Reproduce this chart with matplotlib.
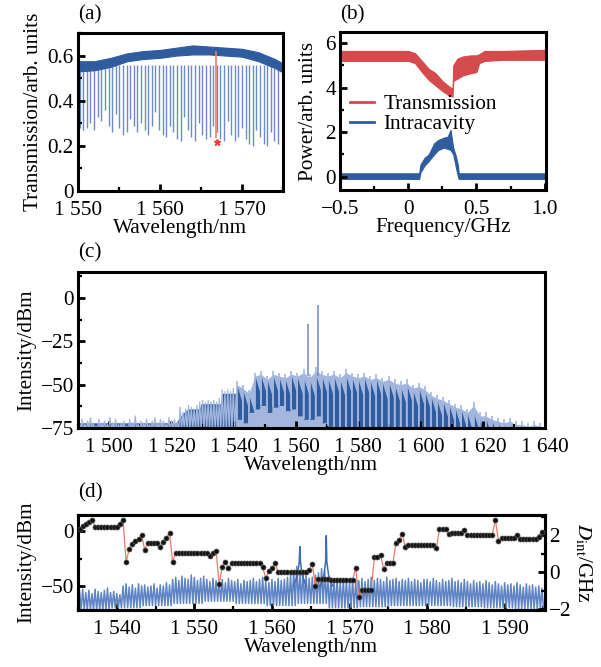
import numpy as np
import matplotlib.pyplot as plt
from matplotlib.lines import Line2D
from matplotlib.ticker import FuncFormatter, MultipleLocator

plt.rcParams['font.family'] = ['Liberation Serif', 'DejaVu Serif']
plt.rcParams['mathtext.fontset'] = 'stix'
plt.rcParams['font.size'] = 15.3
plt.rcParams['axes.unicode_minus'] = True

BLUE = '#2f5c9e'
BLUE_L = '#6d8cc6'
BLUE_XL = '#a3b6de'
RED = '#d54a4c'
RED_L = '#ea7b6c'

# ---------------- (a) transmission scan ----------------
a_band_wl = [1550, 1552, 1554, 1556, 1558, 1560, 1562, 1564, 1566, 1568, 1570, 1572, 1574, 1575]
a_band_hi = [0.575, 0.575, 0.59, 0.61, 0.62, 0.625, 0.635, 0.645, 0.64, 0.635, 0.63, 0.615, 0.585, 0.565]
a_band_lo = [0.53, 0.535, 0.55, 0.575, 0.585, 0.59, 0.60, 0.605, 0.605, 0.60, 0.595, 0.575, 0.545, 0.525]
a_fsr = 0.44
a_dip_min = [0.28, 0.27, 0.28, 0.30, 0.27, 0.33, 0.31, 0.36, 0.29, 0.26, 0.34, 0.28, 0.25, 0.26,
             0.32, 0.29, 0.26, 0.30, 0.27, 0.25, 0.29, 0.35, 0.27, 0.25, 0.24, 0.29, 0.26, 0.23,
             0.22, 0.33, 0.27, 0.24, 0.22, 0.30, 0.25, 0.23, 0.24, 0.29, 0.26, 0.23, 0.22, 0.31,
             0.25, 0.22, 0.24, 0.28, 0.23, 0.21, 0.20, 0.27, 0.24, 0.21, 0.20, 0.26, 0.22, 0.21]
a_pump_wl = 1566.85
a_pump_top = 0.62
a_pump_min = 0.235
a_star = (1567.0, 0.215)

# ---------------- (b) frequency scan ----------------
b_tr_f = [-0.5, 0.0, 0.05, 0.10, 0.15, 0.20, 0.25, 0.30, 0.325, 0.33, 0.36, 0.40, 0.46, 0.50, 0.52, 0.56, 0.70, 1.0]
b_tr_hi = [5.65, 5.65, 5.55, 5.2, 4.85, 4.65, 4.3, 4.05, 3.95, 5.0, 5.3, 5.4, 5.45, 5.45, 5.5, 5.65, 5.65, 5.7]
b_tr_lo = [5.2, 5.2, 5.1, 4.7, 4.35, 4.1, 3.85, 3.65, 3.6, 4.3, 4.4, 4.55, 4.65, 4.7, 5.1, 5.2, 5.25, 5.25]
b_ic_f = [-0.5, 0.08, 0.09, 0.12, 0.15, 0.19, 0.22, 0.26, 0.29, 0.31, 0.33, 0.35, 0.365, 0.37, 1.0]
b_ic_hi = [0.15, 0.15, 0.55, 0.85, 1.0, 1.5, 1.65, 1.75, 1.8, 2.1, 1.3, 0.9, 0.5, 0.15, 0.15]
b_ic_lo = [-0.1, -0.1, 0.2, 0.5, 0.7, 1.0, 1.2, 1.3, 1.25, 1.2, 1.0, 0.4, 0.0, -0.1, -0.1]

# ---------------- (c) full comb spectrum ----------------
c_noise_start, c_noise_step = 1490.4, 0.9
c_noise_top = [-72, -70, -73, -71, -69, -72, -74, -70, -72, -71, -73, -69, -72, -70, -73, -72, -71, -74,
               -70, -72, -68, -73, -71, -72, -70, -73, -71, -69, -72, -70, -71, -73, -69, -71, -70, -72,
               -63, -66, -64, -62, -63, -64, -62, -60, -59, -60, -59, -60, -59, -60, -58, -53, -54, -53,
               -54, -52, -55]
c_shelf_wl = [1490, 1521.5, 1522.5, 1524, 1525.5, 1529, 1529.5, 1535.8, 1536.2, 1540.6, 1540.8]
c_shelf_top = [-72, -72, -69, -66, -64, -64, -61, -61, -55, -55, -76]
c_tooth_start, c_tooth_step = 1541.0, 1.95
c_top = [-48, -50, -53, -43, -42, -45, -42, -43, -44, -42, -43, -41, -44, -40, -42, -43, -42,
         -44, -41, -43, -44, -43, -45, -44, -46, -45, -47, -48, -47, -50, -49, -51, -54, -56,
         -57, -59, -61, -62, -64, -60, -66, -66, -68, -69, -70, -69, -71, -71, -72, -71, -72]
c_dark = [-50, -53, -56, -45, -45, -47, -45, -46, -47, -45, -46, -46, -47, -44, -45, -46, -45,
          -47, -45, -46, -47, -46, -48, -47, -49, -48, -50, -51, -50, -53, -52, -54, -57, -59,
          -60, -62, -64, -65, -67, -66, -69, -69, -70, -71, -72, -72, -73, -73, -74, -73, -74]
c_base = [-70, -72, -66, -64, -62, -66, -63, -62, -65, -64, -68, -70, -70, -68, -72, -74, -76,
          -76, -76, -76, -76, -76, -76, -76, -76, -76, -76, -76, -76, -76, -76, -76, -76, -76,
          -76, -76, -76, -76, -76, -76, -76, -76, -76, -76, -76, -76, -76, -76, -76, -76, -76]
c_spike_wl = [1563.8, 1567.0]
c_spike_top = [-15, -4]

# ---------------- (d) zoomed spectrum + D_int ----------------
d_start, d_fsr = 1535.2, 0.4
d_top = [-55, -53, -56, -54, -57, -53, -55, -56, -54, -52, -56, -55, -57, -58,
         -50, -48, -51, -49, -52, -48, -50, -49, -51, -50, -48, -52, -49, -50, -47, -49,
         -44, -42, -45, -41, -43, -44, -40, -42, -45, -43, -41, -44, -46, -43, -45,
         -46, -44, -47, -43, -45, -46, -44, -48, -45, -46,
         -45, -43, -46, -44, -42, -45, -47, -44, -46, -43, -45, -44, -42, -40, -36,
         -32, -38, -36, -40, -43, -42, -40, -38, -34,
         -36, -42, -44, -45, -43, -46, -44, -45, -47, -44, -46,
         -45, -43, -46, -44, -42, -45, -43, -44, -46, -42, -45, -44, -43, -46, -44, -45, -43,
         -46, -44, -45, -47, -44,
         -44, -46, -43, -45, -47, -44, -46, -45, -43, -46, -45, -47, -44, -46, -48, -45, -47,
         -46, -48, -45,
         -47, -49, -46, -48, -50, -47, -49, -48, -50, -47, -49, -51, -48, -50, -49, -51, -50, -52]
d_floor = [-72, -70, -68, -66, -64, -66, -68, -66, -70, -69, -68, -68, -69, -70, -71]
d_spike_wl = [1563.6, 1567.0]
d_spike_top = [-14, -4]
d_spike_dx = [-0.8, -0.3, -0.08, 0.0, 0.08, 0.3, 0.8]
d_spike_side = [-50, -40, -28]
d_dint_runs = [(1, 2.35), (1, 2.5), (1, 2.6), (1, 2.7), (1, 2.85), (8, 2.45), (1, 2.62), (1, 2.85),
               (1, 0.56), (1, 1.25), (1, 1.55), (1, 1.7), (1, 1.8), (1, 2.0), (1, 1.22), (4, 1.6),
               (1, 1.35), (1, 1.65), (1, 1.85), (1, 2.13), (1, 0.56), (11, 1.05), (1, 0.9), (1, 1.05),
               (1, 1.14), (1, -0.65), (1, 0.3), (1, 0.56), (1, 0.2), (10, 0.5), (1, 0.3), (1, -0.33),
               (1, 0.05), (1, 0.2), (1, 0.5), (10, 0.0), (1, 0.1), (1, 0.46), (1, -0.74), (4, -0.38),
               (8, -0.42), (1, 0.25), (1, -1.35), (4, -0.95), (1, 0.8), (1, 0.85), (1, 0.95), (1, 0.18),
               (3, 0.5), (1, 1.6), (1, 1.75), (1, 2.05), (1, 1.35), (9, 1.47), (1, 1.3), (3, 2.36),
               (1, 2.05), (4, 2.15), (1, 2.3), (9, 2.02), (1, 2.85), (1, 1.68), (5, 1.85), (1, 2.0),
               (6, 1.8), (1, 1.9), (1, 2.2)]

W, H = 601, 667
fig = plt.figure(figsize=(W / 100, H / 100), dpi=100)


def box(l, t, r, b):
    return [l / W, 1 - b / H, (r - l) / W, (b - t) / H]


def style(ax, right=False):
    for s in ax.spines.values():
        s.set_linewidth(2.2)
    ax.tick_params(which='both', direction='in', top=False, right=right, width=2)
    ax.tick_params(axis='x', which='both', pad=7.5)
    ax.tick_params(axis='y', which='both', pad=3)
    ax.tick_params(which='major', length=5)
    ax.tick_params(which='minor', length=3, width=1.6)


def wl_fmt(v, p):
    return f'{v:,.0f}'.replace(',', ' ')


def num_fmt(v, p):
    if abs(v) < 1e-9:
        return '0'
    s = f'{v:g}'
    return s.replace('-', '\u2212')


def one_dec_fmt(v, p):
    if abs(v) < 1e-9:
        return '0'
    return f'{v:.1f}'.replace('-', '\u2212')


# (a)
ax = fig.add_axes(box(78, 33, 283, 191))
dip_wl = 1550.2 + a_fsr * np.arange(len(a_dip_min))
ax.vlines(dip_wl, a_dip_min, 0.56, color=BLUE_L, lw=1.0, zorder=1)
ax.fill_between(a_band_wl, a_band_lo, a_band_hi, color=BLUE, lw=0.8, zorder=2)
ax.vlines(a_pump_wl, a_pump_min, a_pump_top, color=RED_L, lw=1.2, zorder=3)
ax.plot(*a_star, marker='*', color='#e5403a', ms=5, zorder=4)
ax.set_xlim(1550, 1575)
ax.set_ylim(0, 0.7)
ax.xaxis.set_major_locator(MultipleLocator(10))
ax.xaxis.set_minor_locator(MultipleLocator(5))
ax.yaxis.set_major_locator(MultipleLocator(0.2))
ax.yaxis.set_minor_locator(MultipleLocator(0.1))
ax.xaxis.set_major_formatter(FuncFormatter(wl_fmt))
ax.yaxis.set_major_formatter(FuncFormatter(num_fmt))
ax.set_xlabel('Wavelength/nm', labelpad=-1)
ax.set_ylabel('Transmission/arb. units', labelpad=3)
style(ax)

# (b)
ax = fig.add_axes(box(340, 32, 546, 190))
ax.fill_between(b_tr_f, b_tr_lo, b_tr_hi, color=RED, lw=0.8)
ax.fill_between(b_ic_f, b_ic_lo, b_ic_hi, color=BLUE, lw=0.8)
ax.set_xlim(-0.5, 1.01)
ax.set_ylim(-0.6, 6.5)
ax.xaxis.set_major_locator(MultipleLocator(0.5))
ax.xaxis.set_minor_locator(MultipleLocator(0.25))
ax.yaxis.set_major_locator(MultipleLocator(2))
ax.yaxis.set_minor_locator(MultipleLocator(1))
ax.xaxis.set_major_formatter(FuncFormatter(one_dec_fmt))
ax.yaxis.set_major_formatter(FuncFormatter(num_fmt))
ax.set_xlabel('Frequency/GHz', labelpad=-1)
ax.set_ylabel('Power/arb. units', labelpad=5)
handles = [Line2D([], [], color=RED, lw=2), Line2D([], [], color=BLUE, lw=2)]
ax.legend(handles, ['Transmission', 'Intracavity'], frameon=False, loc='center left',
          bbox_to_anchor=(0.05, 0.48), borderaxespad=0, borderpad=0, handlelength=1.1,
          handletextpad=0.45, labelspacing=0.0)
style(ax)

# (c)
ax = fig.add_axes(box(78, 272, 545, 428))
nz_wl = c_noise_start + c_noise_step * np.arange(len(c_noise_top))
zx = np.column_stack([nz_wl, nz_wl + c_noise_step / 2]).ravel()
zy = np.column_stack([c_noise_top, np.full(len(c_noise_top), -76)]).ravel()
ax.plot(zx, zy, color=BLUE_XL, lw=0.9)
ax.fill_between(c_shelf_wl, -76, c_shelf_top, color=BLUE, lw=0)
t_wl = c_tooth_start + c_tooth_step * np.arange(len(c_top))
ax.fill_between(t_wl, -76, np.array(c_top) - 2, color=BLUE_XL, lw=0)
ax.vlines(t_wl, c_base, c_top, color=BLUE_XL, lw=1.2)
for w, d, b in zip(t_wl, c_dark, c_base):
    ax.fill_between([w, w + 0.15, w + 1.5], [b, b, b], [d, d - 1, d - 9], color=BLUE, lw=0)
ax.vlines(c_spike_wl, -45, c_spike_top, color=BLUE_L, lw=1.1)
ax.set_xlim(1490, 1640)
ax.set_ylim(-75, 15)
ax.xaxis.set_major_locator(MultipleLocator(20))
ax.xaxis.set_minor_locator(MultipleLocator(10))
ax.yaxis.set_major_locator(MultipleLocator(25))
ax.yaxis.set_minor_locator(MultipleLocator(12.5))
ax.xaxis.set_major_formatter(FuncFormatter(wl_fmt))
ax.yaxis.set_major_formatter(FuncFormatter(num_fmt))
ax.set_xlabel('Wavelength/nm', labelpad=-1)
ax.set_ylabel('Intensity/dBm', labelpad=3)
style(ax)

# (d)
ax = fig.add_axes(box(78, 515, 545, 610))
d_wl = d_start + d_fsr * np.arange(len(d_top))
d_bot = [d_floor[k // 10] for k in range(len(d_top))]
zx = np.column_stack([d_wl, d_wl + d_fsr / 2]).ravel()
zy = np.column_stack([d_top, d_bot]).ravel()
ax.plot(zx, zy, color='#5f84c4', lw=1.1)
for w, top in zip(d_spike_wl, d_spike_top):
    ys = d_spike_side + [top] + d_spike_side[::-1]
    ax.plot(w + np.array(d_spike_dx), ys, color='#3f6bb3', lw=1.1)
ax.set_xlim(1535, 1595.2)
ax.set_ylim(-72, 15)
ax.xaxis.set_major_locator(MultipleLocator(10))
ax.xaxis.set_minor_locator(MultipleLocator(5))
ax.yaxis.set_major_locator(MultipleLocator(50))
ax.yaxis.set_minor_locator(MultipleLocator(25))
ax.xaxis.set_major_formatter(FuncFormatter(wl_fmt))
ax.yaxis.set_major_formatter(FuncFormatter(num_fmt))
ax.set_xlabel('Wavelength/nm', labelpad=-1)
ax.set_ylabel('Intensity/dBm', labelpad=3)
style(ax)

ax2 = ax.twinx()
dint = np.concatenate([np.full(n, v) for n, v in d_dint_runs])
dint_wl = d_start + d_fsr * np.arange(len(dint))
ax2.plot(dint_wl, dint, color=RED_L, lw=0.9, zorder=2)
ax2.plot(dint_wl, dint, ls='none', marker='o', ms=3.6, mfc='#111111', mec='#555555', mew=0.5, zorder=3)
ax2.set_ylim(-2.05, 3.1)
ax2.yaxis.set_major_locator(MultipleLocator(2))
ax2.yaxis.set_minor_locator(MultipleLocator(1))
ax2.yaxis.set_major_formatter(FuncFormatter(num_fmt))
ax2.set_ylabel(r'$D_{\rm int}$/GHz', rotation=270, labelpad=16)
style(ax2, right=True)
ax2.tick_params(which='both', left=False)

for label, x, y in [('(a)', 78, 15), ('(b)', 340, 15), ('(c)', 78, 253), ('(d)', 78, 493)]:
    fig.text(x / W, 1 - y / H, label, ha='left', va='center', fontsize=15.3)

fig.savefig('out.png', dpi=100)
